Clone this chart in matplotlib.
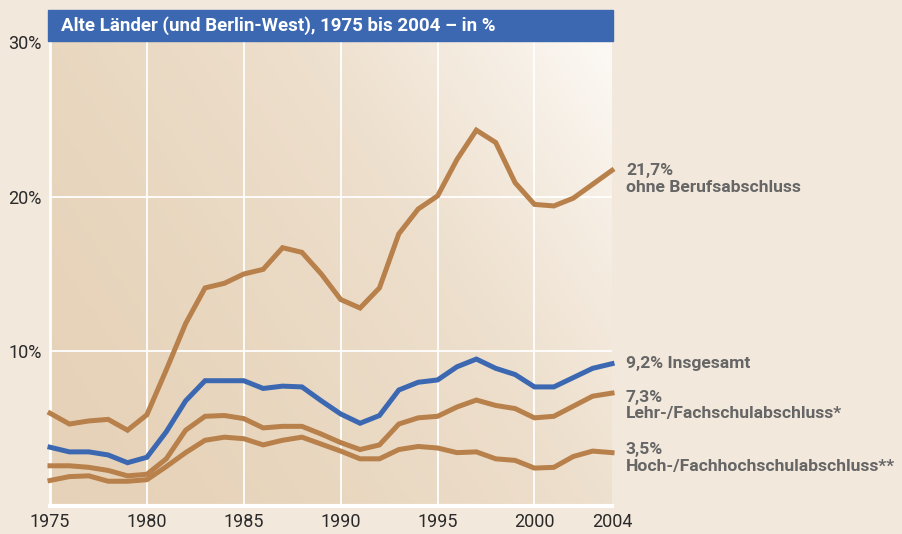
import numpy as np
import matplotlib
matplotlib.use('Agg')
from matplotlib import pyplot as plt
from matplotlib.colors import LinearSegmentedColormap

plt.rcParams['font.family'] = ['Roboto', 'DejaVu Sans']

# Data
years = list(range(1975, 2005))
ohne = [6.0, 5.3, 5.5, 5.6, 4.9, 5.9, 8.8, 11.8, 14.1, 14.4, 15.0, 15.3, 16.7, 16.4,
        15.0, 13.35, 12.8, 14.1, 17.6, 19.2, 20.05, 22.4, 24.3, 23.5, 20.9, 19.5,
        19.4, 19.9, 20.8, 21.7]
insgesamt = [3.8, 3.5, 3.5, 3.3, 2.8, 3.15, 4.8, 6.8, 8.1, 8.1, 8.1, 7.6, 7.75, 7.7,
             6.8, 5.95, 5.35, 5.85, 7.5, 8.0, 8.15, 9.0, 9.5, 8.9, 8.5, 7.7, 7.7,
             8.3, 8.9, 9.2]
lehr = [2.6, 2.6, 2.5, 2.3, 1.95, 2.05, 3.05, 4.9, 5.8, 5.85, 5.65, 5.05, 5.15, 5.15,
        4.65, 4.1, 3.65, 3.95, 5.3, 5.7, 5.8, 6.4, 6.85, 6.5, 6.3, 5.7, 5.8, 6.45,
        7.1, 7.3]
hoch = [1.65, 1.9, 1.95, 1.6, 1.6, 1.7, 2.55, 3.45, 4.25, 4.45, 4.35, 3.95, 4.25, 4.45,
        4.0, 3.55, 3.05, 3.05, 3.65, 3.85, 3.75, 3.45, 3.5, 3.05, 2.95, 2.45, 2.5,
        3.2, 3.55, 3.45]

series_labels = ['21,7%\nohne Berufsabschluss', '9,2% Insgesamt',
                 '7,3%\nLehr-/Fachschulabschluss*', '3,5%\nHoch-/Fachhochschulabschluss**']
xticks = [1975, 1980, 1985, 1990, 1995, 2000, 2004]
yticks = [10, 20, 30]
title = 'Alte Länder (und Berlin-West), 1975 bis 2004 – in %'

BG = '#f3e8dc'
ORANGE = '#b8804a'
BLUE = '#3c68b1'
TEXT = '#666666'

fig = plt.figure(figsize=(9.02, 5.34), dpi=100, facecolor=BG)
ax = fig.add_axes([50/902, 28/534, 562/902, 464/534])
ax.set_xlim(1975, 2004)
ax.set_ylim(0, 30)

# gradient background: dark tan bottom-left -> almost white top-right
cmap = LinearSegmentedColormap.from_list('bg', ['#e6d2b8', '#eee0ce', '#fcf9f5'])
gx, gy = np.meshgrid(np.linspace(0, 1, 200), np.linspace(0, 1, 200))
grad = (gx * 0.65 + gy * 0.35) ** 1.6
ax.imshow(grad, cmap=cmap, extent=[1975, 2004, 0, 30], origin='lower',
          aspect='auto', zorder=0, interpolation='bilinear')

for s in ax.spines.values():
    s.set_visible(False)
ax.set_xticks(xticks)
ax.set_yticks(yticks)
ax.set_yticklabels([str(v) + '%' for v in yticks])
ax.tick_params(length=0, labelsize=13, colors='#2a2a2a')
ax.tick_params(axis='x', pad=5)
ax.tick_params(axis='y', pad=6)
for x in xticks[1:-1]:
    ax.axvline(x, color='white', lw=1.3, zorder=1)
for y in yticks[:-1]:
    ax.axhline(y, color='white', lw=1.3, zorder=1)
ax.axhline(0, color='white', lw=3, zorder=1, clip_on=False)
ax.axvline(1975, color='white', lw=2, zorder=1, clip_on=False)

# lines
data = [ohne, insgesamt, lehr, hoch]
colors = [ORANGE, BLUE, ORANGE, ORANGE]
offsets = [-6, 0, -9, -4]
for vals, c, lab, off in zip(data, colors, series_labels, offsets):
    ax.plot(years, vals, color=c, lw=3.6, solid_joinstyle='miter', zorder=3,
            clip_on=False)
    ax.annotate(lab, xy=(years[-1], vals[-1]), xytext=(10, off),
                textcoords='offset points', ha='left', va='center',
                fontsize=12.6, fontweight='bold', color=TEXT, linespacing=1.15,
                annotation_clip=False)

# title bar
fig.patches.append(plt.Rectangle((48/902, 1 - 41/534), 565/902, 31/534,
                                 transform=fig.transFigure, color=BLUE, zorder=5))
fig.text(61/902, 1 - 25.5/534, title, color='white', fontsize=13.5, fontweight='bold',
         ha='left', va='center', zorder=6)

fig.savefig('out.png', dpi=100, facecolor=BG)
